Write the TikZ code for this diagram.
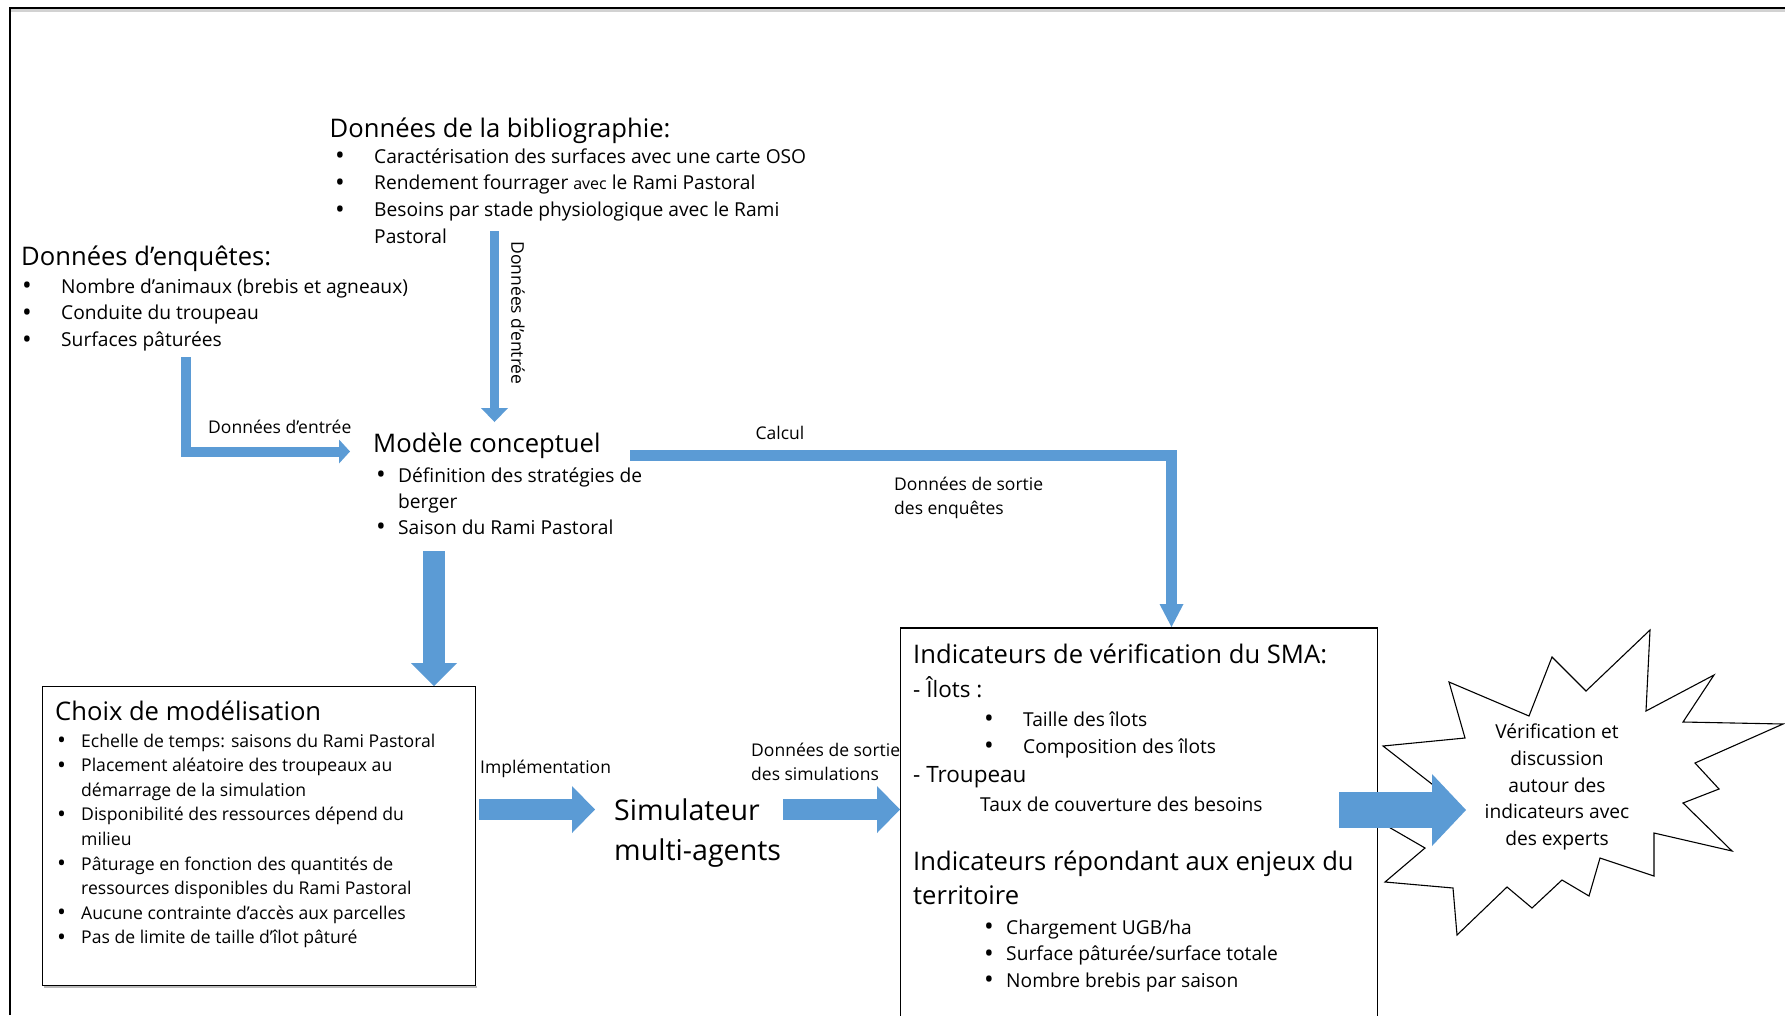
\documentclass[tikz,border=0pt]{standalone}
\usepackage{fontspec}
\usepackage{graphicx}
\setmainfont{Open Sans}
\usetikzlibrary{arrows.meta}
\definecolor{arrowblue}{HTML}{5B9BD5}
\newcommand{\myfs}[2]{\fontsize{#1}{#2}\selectfont}
\newcommand{\bulletmark}{\raisebox{-0.1em}{\scalebox{1.35}{•}}}
\begin{document}
\begin{tikzpicture}[x=1pt,y=-1pt,
  txt/.style={inner sep=0pt, anchor=base west},
  head/.style={txt, font=\myfs{25.6}{34}},
  body/.style={txt, font=\myfs{19.2}{26.7}},
  lab/.style={inner sep=0pt, font=\myfs{17.5}{24}},
  flow/.style={draw=arrowblue, line join=miter, line cap=butt},
  boxline/.style={draw=black, line width=1.2pt},
  starline/.style={draw=black, line width=1.1pt, line join=miter, fill=white}]
\useasboundingbox (0,0) rectangle (1785,1015);
\fill[white] (0,0) rectangle (1785,1015);

% outer frame
\draw[gray!35, line width=2.7pt] (11,10.4) -- (1785,10.4);
\draw[black, line width=2.3pt] (10,1015) -- (10,7.8) -- (1785,7.8);

% top texts
\node[head] (bibh) at (329.5,137) {Données de la bibliographie:};
\node[body] (bibl) at (335,163) {\begin{tabular}[t]{@{}p{39pt}@{}l@{}}
\bulletmark & Caractérisation des surfaces avec une carte OSO\\
\bulletmark & Rendement fourrager {\myfs{16}{26.7}avec} le Rami Pastoral\\
\bulletmark & Besoins par stade physiologique avec le Rami\\
  & Pastoral
\end{tabular}};

\node[head] (enqh) at (21,265) {Données d’enquêtes:};
\node[body] (enql) at (22,293) {\begin{tabular}[t]{@{}p{39pt}@{}l@{}}
\bulletmark & Nombre d’animaux (brebis et agneaux)\\
\bulletmark & Conduite du troupeau\\
\bulletmark & Surfaces pâturées
\end{tabular}};

\node[head] (modh) at (373,452) {Modèle conceptuel};
\node[txt, font=\myfs{19.2}{26}] (modl) at (376,482) {\begin{tabular}[t]{@{}p{22pt}@{}l@{}}
\bulletmark & Définition des stratégies de\\
  & berger\\
\bulletmark & Saison du Rami Pastoral
\end{tabular}};

% Choix de modelisation box
\draw[gray!55, line width=1.6pt] (44,987) -- (476.5,987);
\node[boxline, fill=white, inner sep=0pt, minimum width=433pt, minimum height=299pt, anchor=north west] (choixbox) at (42,686) {};
\node[head] (choixh) at (55,720) {Choix de modélisation};
\node[txt, font=\myfs{17.6}{24.6}] (choixl) at (57,747) {\begin{tabular}[t]{@{}p{24pt}@{}l@{}}
\bulletmark & Echelle de temps: saisons du Rami Pastoral\\
\bulletmark & Placement aléatoire des troupeaux au\\
  & démarrage de la simulation\\
\bulletmark & Disponibilité des ressources dépend du\\
  & milieu\\
\bulletmark & Pâturage en fonction des quantités de\\
  & ressources disponibles du Rami Pastoral\\
\bulletmark & Aucune contrainte d’accès aux parcelles\\
\bulletmark & Pas de limite de taille d’îlot pâturé
\end{tabular}};

% starburst
\draw[starline] (1449,682) -- (1529,716) -- (1552,657) -- (1586,691) -- (1650,630)
  -- (1646,711) -- (1714,675) -- (1683,722) -- (1783,724) -- (1695,763)
  -- (1719,789) -- (1683,803) -- (1732,851) -- (1654,833) -- (1654,876)
  -- (1600,858) -- (1589,896) -- (1562,880) -- (1532,908) -- (1507,887)
  -- (1457,935) -- (1453,888) -- (1385,882) -- (1425,848) -- (1368,815)
  -- (1455,802) -- (1383,746) -- (1465,738) -- cycle;
\node[font=\myfs{19.2}{26.7}, align=center, inner sep=0pt] (star) at (1557,787)
  {Vérification et\\discussion\\autour des\\indicateurs avec\\des experts};

% Indicateurs box
\fill[white] (900.5,628) rectangle (1377.5,1015);
\draw[black, line width=1.2pt] (900.5,1016) |- (1377.5,628) -- (1377.5,1016);
\coordinate (indbox) at (900.5,628);
\node[head] (indh) at (913,663) {Indicateurs de vérification du SMA:};
\node[txt, font=\myfs{22.5}{30}] (ilots) at (913,697) {- Îlots :};
\node[txt, font=\myfs{19.2}{27}] (ilotsl) at (984,726) {\begin{tabular}[t]{@{}p{39pt}@{}l@{}}
\bulletmark & Taille des îlots\\
\bulletmark & Composition des îlots
\end{tabular}};
\node[txt, font=\myfs{22.5}{30}] (troup) at (913,782) {- Troupeau};
\node[body] (taux) at (980,811) {Taux de couverture des besoins};
\node[txt, font=\myfs{25.6}{34}] (enjh) at (913,870) {\begin{tabular}[t]{@{}l@{}}
Indicateurs répondant aux enjeux du\\
territoire
\end{tabular}};
\node[txt, font=\myfs{19.2}{26.5}] (enjl) at (984,934) {\begin{tabular}[t]{@{}p{22pt}@{}l@{}}
\bulletmark & Chargement UGB/ha\\
\bulletmark & Surface pâturée/surface totale\\
\bulletmark & Nombre brebis par saison
\end{tabular}};

% simulator
\node[txt, font=\myfs{28.6}{40}] (sim) at (614,820) {\begin{tabular}[t]{@{}l@{}}
Simulateur\\
multi-agents
\end{tabular}};

% labels
\node[lab, anchor=base west] (lbl1) at (208,433) {Données d’entrée};
\node[lab, rotate=-90] (lbl2) at (518,313) {Données d’entrée};
\node[lab] (lcalc) at (780,433) {Calcul};
\node[lab, anchor=base west] (lsortie1) at (894,490) {\begin{tabular}[t]{@{}l@{}}
Données de sortie\\
des enquêtes
\end{tabular}};
\node[lab, anchor=base west] (limpl) at (480,773) {Implémentation};
\node[lab, anchor=base west] (lsortie2) at (751,756) {\begin{tabular}[t]{@{}l@{}}
Données de sortie\\
des simulations
\end{tabular}};

% arrow coordinates
\coordinate (aA1) at (186,357);    \coordinate (aA2) at (350,451.5);
\coordinate (aB1) at (494.5,231);  \coordinate (aB2) at (494.5,422);
\coordinate (aC1) at (630,455);    \coordinate (aC2) at (1171.5,627);
\coordinate (aD1) at (434,551);    \coordinate (aD2) at (434,686);
\coordinate (aE1) at (479,809.5);  \coordinate (aE2) at (595,809.5);
\coordinate (aF1) at (783,809.5);  \coordinate (aF2) at (900,809.5);
\coordinate (aG1) at (1339,810);   \coordinate (aG2) at (1466,810);

\draw[flow, line width=10pt, -{Triangle[length=11pt,width=24pt,line width=0pt]}] (aA1) |- (aA2);
\draw[flow, line width=9pt, -{Triangle[length=14pt,width=27pt,line width=0pt]}] (aB1) -- (aB2);
\draw[flow, line width=11pt, -{Triangle[length=23pt,width=24pt,line width=0pt]}] (aC1) -| (aC2);
\draw[flow, line width=22pt, -{Triangle[length=23pt,width=46pt,line width=0pt]}] (aD1) -- (aD2);
\draw[flow, line width=21pt, -{Triangle[length=23pt,width=47pt,line width=0pt]}] (aE1) -- (aE2);
\draw[flow, line width=21pt, -{Triangle[length=23pt,width=47pt,line width=0pt]}] (aF1) -- (aF2);
\draw[flow, line width=36pt, -{Triangle[length=34pt,width=72pt,line width=0pt]}] (aG1) -- (aG2);
\end{tikzpicture}
\end{document}
